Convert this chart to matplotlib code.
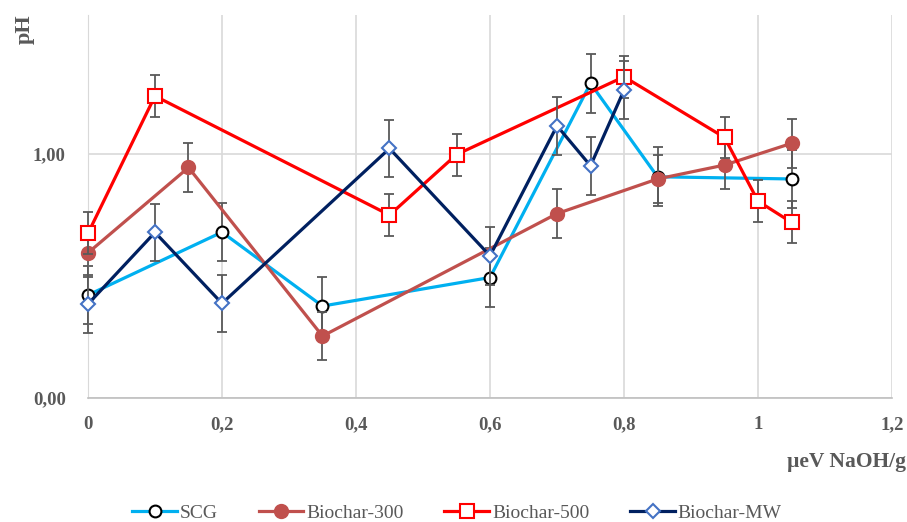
import matplotlib
matplotlib.use("Agg")
from matplotlib import pyplot as plt
from matplotlib.ticker import FuncFormatter

# values
scg_x = [0, 0.2, 0.35, 0.6, 0.75, 0.85, 1.05]
scg_y = [0.422, 0.68, 0.377, 0.494, 1.29, 0.907, 0.898]
scg_err = 0.12

b300_x = [0, 0.15, 0.35, 0.7, 0.85, 0.95, 1.05]
b300_y = [0.595, 0.945, 0.254, 0.756, 0.898, 0.955, 1.044]
b300_err = 0.10

b500_x = [0, 0.1, 0.45, 0.55, 0.8, 0.95, 1.0, 1.05]
b500_y = [0.675, 1.238, 0.75, 0.998, 1.317, 1.068, 0.807, 0.72]
b500_err = 0.086

mw_x = [0, 0.1, 0.2, 0.45, 0.6, 0.7, 0.75, 0.8]
mw_y = [0.385, 0.679, 0.388, 1.023, 0.583, 1.116, 0.952, 1.262]
mw_err = 0.118

x_ticks = [0, 0.2, 0.4, 0.6, 0.8, 1.0, 1.2]
y_ticks = [0, 1]

gray = "#595959"
plt.rcParams["font.family"] = ["Liberation Serif", "DejaVu Serif"]

fig = plt.figure(figsize=(9.07, 5.22), dpi=100)
ax = fig.add_axes([0.097, 0.2375, 0.8865, 0.7337])

series = [
    ("SCG", scg_x, scg_y, scg_err, "#00B0F0", "o", "white", "black", 8.5),
    ("Biochar-300", b300_x, b300_y, b300_err, "#C0504D", "o", "#C0504D", "#C0504D", 9.5),
    ("Biochar-500", b500_x, b500_y, b500_err, "#FF0000", "s", "white", "#FF0000", 10),
    ("Biochar-MW", mw_x, mw_y, mw_err, "#002060", "D", "white", "#4472C4", 7),
]

for i, (name, xs, ys, err, col, mk, mfc, mec, ms) in enumerate(series):
    eb = ax.errorbar(xs, ys, yerr=err, fmt="none", ecolor=gray, elinewidth=1.3,
                     capsize=3.5, capthick=1.3, zorder=2 + i * 2)
    for art in eb.lines[1] + eb.lines[2]:
        art.set_clip_on(False)
    ax.plot(xs, ys, color=col, lw=2.3, marker=mk, markersize=ms,
            markerfacecolor=mfc, markeredgecolor=mec, markeredgewidth=1.5,
            label=name, zorder=3 + i * 2, clip_on=False)

ax.set_xlim(0, 1.2)
ax.set_ylim(0, 1.57)
ax.set_xticks(x_ticks)
ax.set_yticks(y_ticks)
ax.xaxis.set_major_formatter(FuncFormatter(lambda v, p: ("%g" % round(v, 1)).replace(".", ",")))
ax.yaxis.set_major_formatter(FuncFormatter(lambda v, p: ("%.2f" % v).replace(".", ",")))
ax.tick_params(length=0, labelsize=13.5, labelcolor=gray)
ax.tick_params(axis="y", pad=16)
ax.tick_params(axis="x", pad=13)
for lab in ax.get_xticklabels() + ax.get_yticklabels():
    lab.set_fontweight("bold")

ax.grid(True, color="#D9D9D9", lw=1.2, zorder=0)
ax.set_axisbelow(True)
for s in ["top", "right"]:
    ax.spines[s].set_visible(False)
ax.spines["left"].set_color("#D9D9D9")
ax.spines["bottom"].set_color("#BFBFBF")
ax.spines["bottom"].set_linewidth(1.2)

fig.text(25 / 907, 1 - 29 / 522, "pH", rotation=90, ha="center", va="center",
         fontsize=16, fontweight="bold", color=gray)
fig.text(906 / 907, 1 - 462 / 522, "µeV NaOH/g", ha="right", va="center",
         fontsize=15.5, fontweight="bold", color=gray)

fig.legend(loc="center", bbox_to_anchor=(457 / 907, 1 - 513 / 522), ncol=4,
           frameon=False, fontsize=14, labelcolor=gray, handlelength=2.3,
           handletextpad=0.15, columnspacing=2.1)

fig.savefig("out.png", dpi=100)
